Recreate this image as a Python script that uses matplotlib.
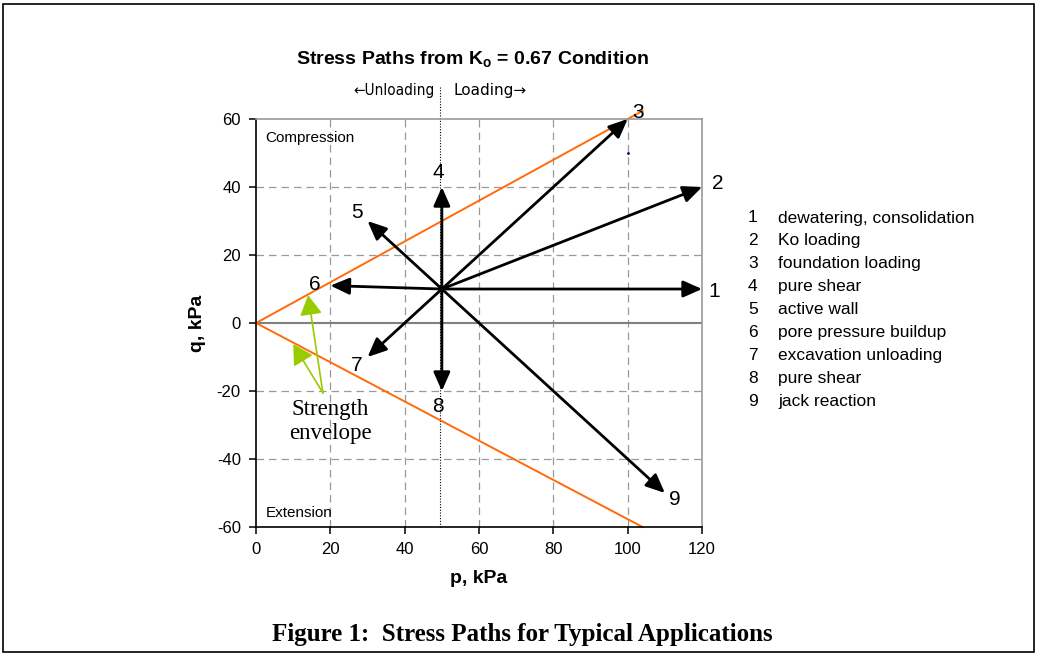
import matplotlib
matplotlib.use("Agg")
import matplotlib.pyplot as plt
from matplotlib.patches import Rectangle

# ---- data ----
start_p, start_q = 50, 10
path_ids = ["1", "2", "3", "4", "5", "6", "7", "8", "9"]
end_p = [120, 120, 100, 50, 30, 20, 30, 50, 110]
end_q = [10, 40, 60, 40, 30, 11, -10, -20, -50]
label_p = [123.2, 124.3, 102.8, 49.0, 27.2, 15.9, 27.2, 49.0, 112.7]
label_q = [9.4, 40.9, 61.8, 44.4, 32.4, 11.2, -12.4, -24.7, -52.0]
path_names = ["dewatering, consolidation", "Ko loading", "foundation loading",
              "pure shear", "active wall", "pore pressure buildup",
              "excavation unloading", "pure shear", "jack reaction"]
env_upper_p = [0, 104]
env_upper_q = [0, 62.4]
env_lower_p = [0, 104]
env_lower_q = [0, -60]
x_ticks = [0, 20, 40, 60, 80, 100, 120]
y_ticks = [-60, -40, -20, 0, 20, 40, 60]

plt.rcParams['font.family'] = ['Liberation Sans', 'DejaVu Sans']
plt.rcParams['axes.unicode_minus'] = False
fig = plt.figure(figsize=(10.37, 6.55), dpi=100)
ax = fig.add_axes([0.2469, 0.1954, 0.4301, 0.6229])
ax.set_xlim(0, 120)
ax.set_ylim(-60, 60)

# grid
for x in x_ticks[1:-1]:
    ax.axvline(x, color='#999999', lw=0.9, ls=(0, (6, 4)), zorder=0)
for y in [-40, -20, 20, 40]:
    ax.axhline(y, color='#999999', lw=0.9, ls=(0, (6, 4)), zorder=0)
ax.axhline(0, color='#808080', lw=1.5, zorder=1)
ax.plot([49.5, 49.5], [-60, 69.5], color='black', lw=0.8, ls=(0, (1, 1.5)),
        clip_on=False, zorder=1)

# spines
for s in ['top', 'right']:
    ax.spines[s].set_color('#999999')
    ax.spines[s].set_linewidth(1.2)
for s in ['left', 'bottom']:
    ax.spines[s].set_color('black')
    ax.spines[s].set_linewidth(1.2)
ax.set_xticks(x_ticks)
ax.set_yticks(y_ticks)
ax.tick_params(direction='out', length=5, width=1.1, labelsize=12, pad=6)

# envelopes
ax.plot(env_upper_p, env_upper_q, color='#FF6A0D', lw=1.4, clip_on=False, zorder=2)
ax.plot(env_lower_p, env_lower_q, color='#FF6A0D', lw=1.4, clip_on=False, zorder=2)

# stress paths
for pid, ep, eq, lp, lq in zip(path_ids, end_p, end_q, label_p, label_q):
    ax.annotate('', xy=(ep, eq), xytext=(start_p, start_q),
                arrowprops=dict(arrowstyle='-|>,head_width=0.23,head_length=0.52',
                                color='black', lw=2.0,
                                mutation_scale=22, shrinkA=0, shrinkB=0),
                annotation_clip=False, zorder=3)
    ax.text(lp, lq, pid, fontsize=15, ha='center', va='center', zorder=4)

ax.plot([100], [50], marker='.', color='navy', ms=2)

# strength envelope pointers
for tip in [(14, 8.2), (10, -6.2)]:
    ax.annotate('', xy=tip, xytext=(18, -20.6),
                arrowprops=dict(arrowstyle='-|>,head_width=0.38,head_length=0.68',
                                color='#99CC00', lw=1.2, mutation_scale=18,
                                shrinkA=0, shrinkB=0), zorder=3)
ax.text(20.0, -29.0, 'Strength\nenvelope', family='Liberation Serif', fontsize=16.5,
        ha='center', va='center', linespacing=1.2)

ax.text(2.6, 54.5, 'Compression', fontsize=11, ha='left', va='center')
ax.text(2.6, -56.0, 'Extension', fontsize=11, ha='left', va='center')
ax.text(47.9, 68.5, '\u2190Unloading', fontsize=11, ha='right', va='center',
        family=['DejaVu Sans'], fontstretch='condensed')
ax.text(53.2, 68.5, 'Loading\u2192', fontsize=11, ha='left', va='center',
        family=['DejaVu Sans'])

ax.set_xlabel('p, kPa', fontsize=14, fontweight='bold', labelpad=9)
ax.set_ylabel('q, kPa', fontsize=14, fontweight='bold', labelpad=8)

fig.text(472 / 1037, 1 - 60 / 655, 'Stress Paths from K$_\\mathregular{o}$ = 0.67 Condition',
         fontsize=14, fontweight='bold', ha='center', va='center')

# list of paths
for i, (pid, name) in enumerate(zip(path_ids, path_names)):
    yy = 1 - (218 + i * 22.9) / 655
    fig.text(748 / 1037, yy, pid, fontsize=12.5, ha='left', va='center')
    fig.text(778 / 1037, yy, name, fontsize=12.5, ha='left', va='center')

fig.text(522 / 1037, 1 - 634 / 655, 'Figure 1:  Stress Paths for Typical Applications',
         family='Liberation Serif', fontsize=18, fontweight='bold', ha='center', va='center')

fig.patches.append(Rectangle((3 / 1037, 3 / 655), 1031 / 1037, 648 / 655,
                             transform=fig.transFigure, fill=False,
                             edgecolor='black', lw=1.2))

fig.savefig('out.png', dpi=100)
